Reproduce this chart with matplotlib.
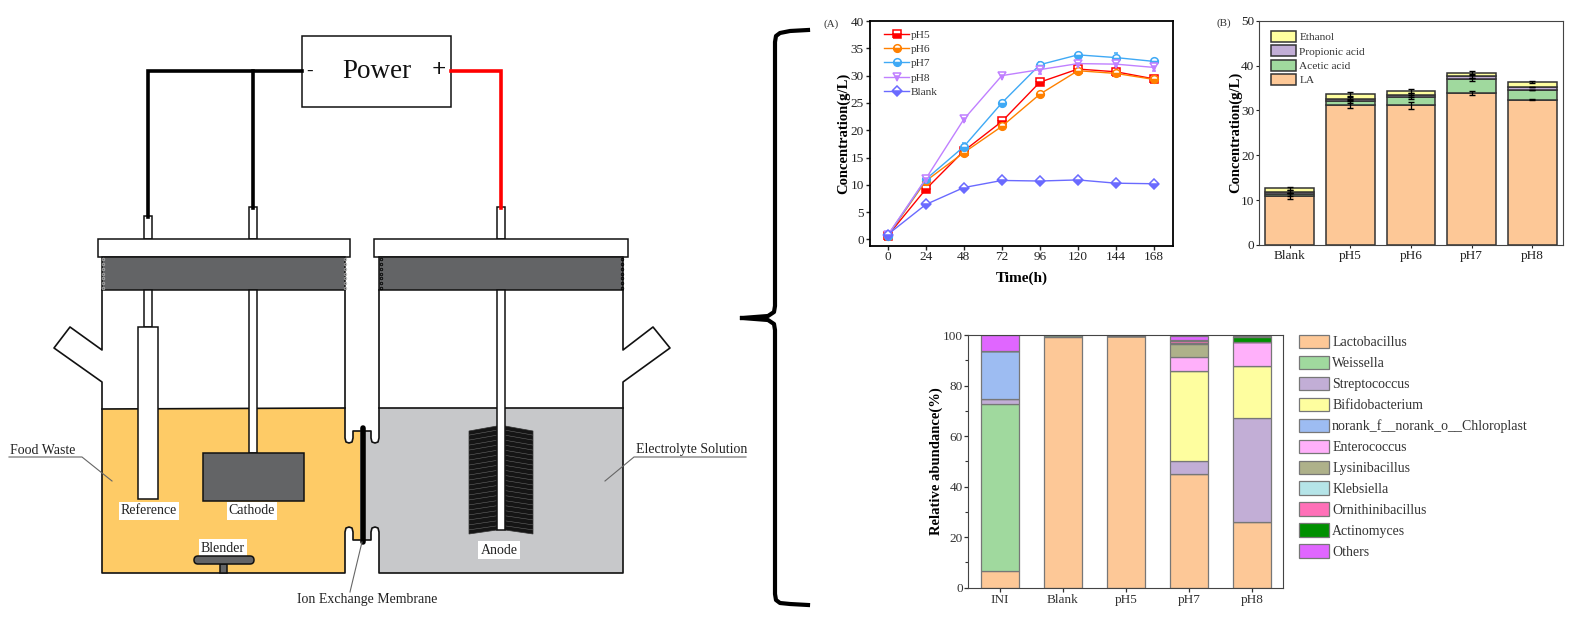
#!/usr/bin/env python3
"""Reactor schematic plus the three result panels (A, B, bacterial community)."""
import numpy as np
import matplotlib
matplotlib.use("Agg")
import matplotlib.pyplot as plt
from matplotlib.lines import Line2D
from matplotlib.patches import Polygon, Rectangle, FancyBboxPatch, Patch

plt.rcParams["font.family"] = ["Liberation Serif", "DejaVu Serif"]

W, H = 1575, 641

# panel A
hours = [0, 24, 48, 72, 96, 120, 144, 168]
ph5 = [0.7, 9.2, 16.2, 21.6, 28.8, 31.2, 30.7, 29.4]
ph6 = [0.7, 10.7, 15.9, 20.7, 26.6, 30.9, 30.4, 29.3]
ph7 = [0.7, 11.0, 17.0, 25.0, 32.0, 33.8, 33.3, 32.6]
ph8 = [0.8, 11.1, 22.0, 30.0, 31.1, 32.2, 32.1, 31.5]
blank = [0.9, 6.4, 9.5, 10.8, 10.7, 10.9, 10.3, 10.2]
ph5_err = [0.1, 0.4, 0.3, 0.4, 0.3, 0.4, 0.5, 0.4]
ph6_err = [0.1, 0.3, 0.3, 0.3, 0.3, 0.3, 0.3, 0.3]
ph7_err = [0.1, 0.3, 0.7, 0.3, 0.5, 0.3, 0.9, 0.5]
ph8_err = [0.1, 0.3, 0.3, 0.3, 0.8, 0.6, 0.5, 0.6]
blank_err = [0.1, 0.2, 0.3, 0.3, 0.2, 0.3, 0.4, 0.2]

# panel B
b_cats = ["Blank", "pH5", "pH6", "pH7", "pH8"]
la = [10.9, 31.3, 31.1, 33.9, 32.4]
acetic = [0.4, 0.8, 1.9, 3.0, 2.1]
propionic = [0.6, 0.5, 0.4, 0.8, 0.7]
ethanol = [0.7, 1.1, 0.9, 0.6, 1.1]
la_err = [0.6, 0.7, 0.7, 0.5, 0.15]
acetic_err = [0.4, 0.5, 0.4, 0.4, 0.05]
propionic_err = [0.4, 0.3, 0.4, 0.4, 0.05]
ethanol_err = [0.3, 0.4, 0.4, 0.4, 0.15]

# community panel
c_cats = ["INI", "Blank", "pH5", "pH7", "pH8"]
genera = ["Lactobacillus", "Weissella", "Streptococcus", "Bifidobacterium",
          "norank_f__norank_o__Chloroplast", "Enterococcus", "Lysinibacillus",
          "Klebsiella", "Ornithinibacillus", "Actinomyces", "Others"]
lactobacillus = [6.5, 99.2, 99.6, 44.8, 26.0]
weissella = [66.0, 0.7, 0.1, 0.0, 0.0]
streptococcus = [2.3, 0.0, 0.0, 5.3, 41.3]
bifidobacterium = [0.0, 0.0, 0.0, 35.6, 20.4]
chloroplast = [18.8, 0.0, 0.0, 0.0, 0.0]
enterococcus = [0.0, 0.0, 0.0, 5.5, 9.4]
lysinibacillus = [0.0, 0.0, 0.0, 5.2, 0.0]
klebsiella = [0.0, 0.0, 0.0, 0.3, 0.0]
ornithinibacillus = [0.0, 0.0, 0.0, 0.9, 0.3]
actinomyces = [0.0, 0.0, 0.0, 0.4, 1.9]
others = [6.4, 0.1, 0.3, 1.7, 0.4]
genus_colors = ["#FDC897", "#A0D99E", "#C2AED6", "#FEFE9F", "#9DBCF2", "#FFB0FA",
                "#AEB18A", "#B5E4E8", "#FF70B8", "#009000", "#E066FF"]

# schematic outlines, in pixels of the figure
left_liquid = [(102, 409), (345, 408), (345, 438), (346, 442), (349, 443), (352, 442), (353, 438),
               (353, 431), (360, 431), (360, 540), (353, 540), (353, 532), (352, 528), (349, 527),
               (346, 528), (345, 532), (345, 573), (102, 573)]
right_liquid = [(379, 408), (623, 408), (623, 573), (379, 573), (379, 532), (378, 528), (375, 527),
                (372, 528), (371, 532), (371, 540), (365, 540), (365, 431), (371, 431), (371, 438),
                (372, 442), (375, 443), (378, 442), (379, 438)]
left_wall = [(102, 290), (102, 350), (70, 327), (54, 348), (102, 382), (102, 573), (345, 573),
             (345, 532), (346, 528), (349, 527), (352, 528), (353, 532), (353, 540), (360, 540)]
left_wall_top = [(345, 290), (345, 438), (346, 442), (349, 443), (352, 442), (353, 438), (353, 431), (360, 431)]
right_wall = [(623, 290), (623, 350), (653, 327), (670, 348), (623, 382), (623, 573), (379, 573),
              (379, 532), (378, 528), (375, 527), (372, 528), (371, 532), (371, 540), (365, 540)]
right_wall_top = [(379, 290), (379, 438), (378, 442), (375, 443), (372, 442), (371, 438), (371, 431), (365, 431)]
neg_wire_main = [(302, 71), (148, 71), (148, 217)]
neg_wire_branch = [(253, 71), (253, 208)]
pos_wire = [(451, 71), (501, 71), (501, 208)]
brace_top = [(808, 30), (790, 31), (780, 33), (776, 36), (775, 42), (775, 306), (774, 312), (768, 316), (742, 318)]
brace_bottom = [(742, 318), (768, 320), (774, 324), (775, 330), (775, 594), (776, 600), (780, 603), (790, 604), (808, 605)]
# x0, y0, x1, y1, fill
boxes = [(302, 36, 451, 107, "white"), (144, 216, 152, 239, "white"), (249, 207, 257, 239, "white"),
         (497, 207, 505, 239, "white"), (98, 239, 350, 257, "white"), (374, 239, 628, 257, "white"),
         (102, 257, 345, 290, "#636466"), (379, 257, 623, 290, "#636466"),
         (144, 290, 152, 327, "white"), (138, 327, 158, 499, "white"), (249, 290, 257, 453, "white"),
         (497, 290, 505, 530, "white"), (203, 453, 304, 501, "#636466"), (220, 564, 227, 573, "#636466")]
anode_left = [(469, 431), (497, 426), (497, 530), (469, 534)]
anode_right = [(533, 431), (505, 426), (505, 530), (533, 534)]
diagram_labels = [("Reference", 149, 511), ("Cathode", 252, 511), ("Blender", 223, 548), ("Anode", 499, 550)]
leaders = [[(9, 457), (82, 457), (112, 481)], [(746, 457), (634, 457), (605, 481)], [(362, 542), (350, 592)]]


def px_axes(x0, y0, x1, y1):
    return fig.add_axes([x0 / W, 1 - y1 / H, (x1 - x0) / W, (y1 - y0) / H])


def poly(ax, pts, **kw):
    x, y = zip(*pts)
    ax.plot(x, y, **kw)


fig = plt.figure(figsize=(15.75, 6.41), dpi=100)

# --- schematic -----------------------------------------------------------
bg = fig.add_axes([0, 0, 1, 1])
bg.set_xlim(0, W); bg.set_ylim(H, 0); bg.axis("off")
wall = dict(color="#111111", lw=1.2, solid_joinstyle="round", zorder=3)
bg.add_patch(Polygon(left_liquid, fc="#FECB66", ec="none", zorder=1))
bg.add_patch(Polygon(right_liquid, fc="#C7C8CA", ec="none", zorder=1))
for pts in [left_wall, left_wall_top, right_wall, right_wall_top]:
    poly(bg, pts, **wall)
bg.plot([102, 345], [409, 408], **wall)
bg.plot([379, 623], [408, 408], **wall)
for x0, y0, x1, y1, fc in boxes:
    bg.add_patch(Rectangle((x0, y0), x1 - x0, y1 - y0, fc=fc, ec="#111111", lw=1.1, zorder=4))
bg.plot([362.5, 362.5], [428, 542], color="black", lw=4, solid_capstyle="round", zorder=5)
bg.add_patch(FancyBboxPatch((194, 556), 60, 8, boxstyle="round,pad=0,rounding_size=4",
                            fc="#636466", ec="#111111", lw=1.1, zorder=7))

# anode bristles
for pts in [anode_left, anode_right]:
    bg.add_patch(Polygon(pts, fc="#151515", ec="#333333", lw=0.5, zorder=3))
    for t in np.linspace(0.04, 0.96, 20):
        a = (pts[0][0], pts[0][1] + t * (pts[3][1] - pts[0][1]))
        b = (pts[1][0], pts[1][1] + t * (pts[2][1] - pts[1][1]))
        bg.plot([a[0], b[0]], [a[1], b[1]], color="#707070", lw=0.35, zorder=3.5)

# stopper threads
for x, c in [(102.5, "#AAAAAA"), (344.5, "#AAAAAA"), (380.5, "black"), (621.5, "black")]:
    bg.plot([x] * 7, np.linspace(259, 288, 7), "o", ms=1.8, mfc="none", mec=c, mew=0.6, zorder=5)

poly(bg, neg_wire_main, color="black", lw=2.6, solid_joinstyle="miter", zorder=5)
poly(bg, neg_wire_branch, color="black", lw=2.6, zorder=5)
poly(bg, pos_wire, color="#FF0000", lw=2.6, solid_joinstyle="miter", zorder=5)
poly(bg, brace_top, color="black", lw=3, solid_joinstyle="round", zorder=5)
poly(bg, brace_bottom, color="black", lw=3, solid_joinstyle="round", zorder=5)
for pts in leaders:
    poly(bg, pts, color="#666666", lw=0.8, zorder=6)

bg.text(377, 71, "Power", fontsize=19.5, ha="center", va="center", color="#111111", zorder=6)
bg.text(310, 71, "-", fontsize=14, ha="center", va="center", color="#111111", zorder=6)
bg.text(439, 71, "+", fontsize=18, fontweight="bold", ha="center", va="center", color="#111111", zorder=6)
for s, x, y in diagram_labels:
    bg.text(x, y, s, fontsize=10, ha="center", va="center", color="#222222", zorder=6,
            bbox=dict(fc="white", ec="none", pad=1.5))
bg.text(43, 450, "Food Waste", fontsize=10, ha="center", va="center", color="#222222")
bg.text(636, 450, "Electrolyte Solution", fontsize=10, ha="left", va="center", color="#222222")
bg.text(367, 600, "Ion Exchange Membrane", fontsize=10, ha="center", va="center", color="#222222")
bg.text(831, 24, "(A)", fontsize=8, ha="center", va="center", color="#333333")
bg.text(1224, 23, "(B)", fontsize=8, ha="center", va="center", color="#333333")

# --- panel A -------------------------------------------------------------
ax = px_axes(870, 21, 1173, 246)
series = [(ph5, ph5_err, "pH5", "#FF0000", "s"), (ph6, ph6_err, "pH6", "#FF8000", "o"),
          (ph7, ph7_err, "pH7", "#3FA9F5", "o"), (ph8, ph8_err, "pH8", "#C080FF", "v"),
          (blank, blank_err, "Blank", "#6A6AFF", "D")]
mk_style = dict(ms=5.5, mew=1.1, fillstyle="bottom", markerfacecoloralt="white", lw=1)
lines = []
for vals, err, name, col, mk in series:
    ax.errorbar(hours, vals, yerr=err, color=col, marker=mk, mec=col, capsize=1.5, elinewidth=0.8, **mk_style)
    lines.append(Line2D([], [], color=col, marker=mk, mec=col, label=name, **mk_style))
ax.set_xlim(-11.2, 180)
ax.set_ylim(-1.2, 40)
ax.set_xticks(hours)
ax.set_yticks(range(0, 41, 5))
ax.tick_params(labelsize=9.5, length=3, width=1, colors="#222222")
ax.tick_params(axis="x", pad=0.5)
ax.tick_params(axis="y", pad=1.5)
ax.set_xlabel("Time(h)", fontsize=11, fontweight="bold", labelpad=6)
ax.set_ylabel("Concentration(g/L)", fontsize=10.5, fontweight="bold", labelpad=0)
for s in ax.spines.values():
    s.set_linewidth(1.3)
ax.legend(handles=lines, loc="upper left", bbox_to_anchor=(0.04, 0.97), frameon=False, fontsize=8.2, labelspacing=0.37,
          handlelength=2.2, handletextpad=0.15, borderaxespad=0, borderpad=0.2, labelcolor="#333333")

# --- panel B -------------------------------------------------------------
ax = px_axes(1259.3, 20.7, 1562.7, 245)
b_pos = np.arange(len(b_cats))
b_series = [(la, la_err, "LA", "#FDC897"), (acetic, acetic_err, "Acetic acid", "#A0D99E"),
            (propionic, propionic_err, "Propionic acid", "#C2AED6"), (ethanol, ethanol_err, "Ethanol", "#FEFE9F")]
base = np.zeros(len(b_cats))
for vals, err, name, col in b_series:
    ax.bar(b_pos, vals, 0.8, bottom=base, color=col, edgecolor="#333333", lw=1.1)
    base = base + np.array(vals)
    ax.errorbar(b_pos, base, yerr=err, fmt="none", ecolor="black", elinewidth=0.9, capsize=2, capthick=1, zorder=5)
ax.set_xlim(-0.5, 4.5)
ax.set_ylim(0, 50)
ax.set_xticks(b_pos, b_cats)
ax.set_yticks(range(0, 51, 10))
ax.tick_params(labelsize=9.5, length=2, width=0.8, colors="#222222")
ax.tick_params(axis="x", pad=1.5)
ax.tick_params(axis="y", pad=1.5)
ax.set_ylabel("Concentration(g/L)", fontsize=10.5, fontweight="bold", labelpad=-1)
for s in ax.spines.values():
    s.set_color("#444444")
handles = [Patch(fc=c, ec="#333333", lw=1.1, label=n) for _, _, n, c in b_series[::-1]]
ax.legend(handles=handles, loc="upper left", bbox_to_anchor=(0.04, 0.955), frameon=False, fontsize=8.2,
          labelspacing=0.27, handlelength=2.15, handleheight=1.1, handletextpad=0.3, borderaxespad=0,
          borderpad=0, labelcolor="#333333")

# --- community panel -----------------------------------------------------
ax = px_axes(968.3, 335, 1283.3, 587.7)
c_pos = np.arange(len(c_cats))
stack = [lactobacillus, weissella, streptococcus, bifidobacterium, chloroplast, enterococcus,
         lysinibacillus, klebsiella, ornithinibacillus, actinomyces, others]
base = np.zeros(len(c_cats))
for vals, name, col in zip(stack, genera, genus_colors):
    ax.bar(c_pos, vals, 0.6, bottom=base, color=col, edgecolor="#777777", lw=0.9, label=name)
    base = base + np.array(vals)
ax.set_xlim(-0.5, 4.5)
ax.set_ylim(0, 100)
ax.set_xticks(c_pos, c_cats)
ax.set_yticks(range(0, 101, 20))
ax.set_yticks(range(10, 100, 20), minor=True)
ax.tick_params(labelsize=9.5, length=3, width=0.9, colors="#333333")
ax.tick_params(which="minor", length=2, width=0.8, colors="#333333")
ax.tick_params(axis="x", pad=1.5)
ax.tick_params(axis="y", pad=1)
ax.set_ylabel("Relative abundance(%)", fontsize=10.5, fontweight="bold", labelpad=0)
for s in ax.spines.values():
    s.set_color("#444444")
ax.legend(loc="upper left", bbox_to_anchor=(1299 / W, 1 - 335 / H), bbox_transform=fig.transFigure, frameon=False,
          fontsize=10, labelspacing=0.47, handlelength=2.16, handleheight=1.1, handletextpad=0.22, borderaxespad=0,
          borderpad=0, labelcolor="#333333")

fig.savefig("out.png", dpi=100)
